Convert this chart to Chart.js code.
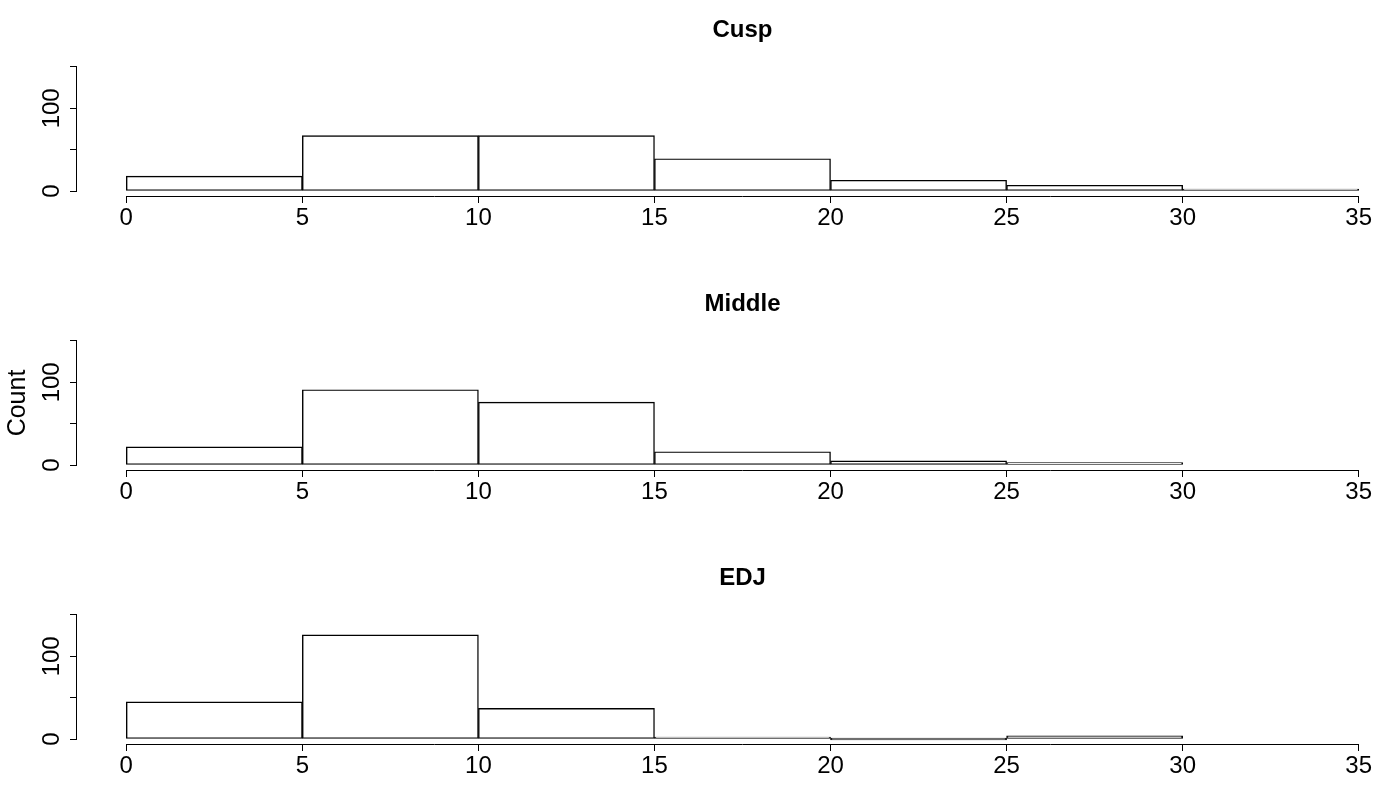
<!DOCTYPE html>
<html>
<head>
<meta charset="utf-8">
<script src="https://cdn.jsdelivr.net/npm/chart.js@4.4.0/dist/chart.umd.min.js"></script>
<style>
html, body { margin: 0; padding: 0; background: #fff; overflow: hidden; width: 1392px; height: 785px; }
.panel { position: absolute; left: 0; width: 1485px; height: 274px; }
</style>
</head>
<body>
<div class="panel" style="top:0px"><canvas id="cusp" width="1485" height="274"></canvas></div>
<div class="panel" style="top:274px"><canvas id="middle" width="1485" height="274"></canvas></div>
<div class="panel" style="top:548px"><canvas id="edj" width="1485" height="274"></canvas></div>
<script>
// histogram bins (left edges), width 5
const binStarts = [0, 5, 10, 15, 20, 25, 30];
const binWidth = 5;

// counts per bin
const cuspCounts = [18, 67, 67, 39, 13, 7, 2];
const middleCounts = [22, 91, 76, 16, 5, 3];
const edjCounts = [45, 126, 37, 1, 0, 4];

// axes
const xTicks = [0, 5, 10, 15, 20, 25, 30, 35];
const yTicks = [0, 50, 100, 150];
const yTickLabels = ['0', '', '100', ''];

Chart.defaults.font.family = "'Liberation Sans', Arial, Helvetica, sans-serif";
Chart.defaults.color = '#000';

// R style axis lines, only from first to last tick
const rAxes = {
    id: 'rAxes',
    afterDraw(chart) {
        let { ctx, chartArea, scales } = chart;
        let x = scales.x, y = scales.y;
        ctx.save();
        ctx.strokeStyle = '#000';
        ctx.lineWidth = 1;
        ctx.beginPath();
        let yb = Math.round(chartArea.bottom) + 0.5;
        ctx.moveTo(x.getPixelForValue(xTicks[0]), yb);
        ctx.lineTo(x.getPixelForValue(xTicks[xTicks.length - 1]), yb);
        let xl = Math.round(chartArea.left) - 0.5;
        ctx.moveTo(xl, y.getPixelForValue(yTicks[0]));
        ctx.lineTo(xl, y.getPixelForValue(yTicks[yTicks.length - 1]));
        ctx.stroke();
        ctx.restore();
    }
};

function makeHist(id, title, counts, yTitle) {
    let points = counts.map((c, i) => ({ x: binStarts[i] + binWidth / 2, y: c }));
    return new Chart(document.getElementById(id), {
        type: 'bar',
        data: {
            datasets: [{
                data: points,
                backgroundColor: '#fff',
                borderColor: '#000',
                borderWidth: 1.4,
                borderSkipped: false,
                barPercentage: 1,
                categoryPercentage: 1,
                minBarLength: 2
            }]
        },
        options: {
            responsive: false,
            animation: false,
            devicePixelRatio: 1,
            layout: { padding: 0 },
            plugins: {
                legend: { display: false },
                tooltip: { enabled: false },
                title: {
                    display: true,
                    text: title,
                    color: '#000',
                    font: { size: 24, weight: 'bold', lineHeight: 1 },
                    padding: { top: 18, bottom: 20 }
                }
            },
            scales: {
                x: {
                    type: 'linear',
                    min: -1.4,
                    max: 36.4,
                    offset: false,
                    afterBuildTicks: s => { s.ticks = xTicks.map(v => ({ value: v })); },
                    afterFit: s => { s.height = 78; },
                    grid: { offset: false, drawOnChartArea: false, drawTicks: true, tickLength: 7, color: '#000', lineWidth: 1 },
                    border: { display: false },
                    ticks: { font: { size: 24 }, color: '#000', padding: 1, maxRotation: 0, autoSkip: false }
                },
                y: {
                    min: -6,
                    max: 156,
                    afterBuildTicks: s => { s.ticks = yTicks.map(v => ({ value: v })); },
                    afterFit: s => { s.width = 77; },
                    grid: { drawOnChartArea: false, drawTicks: true, tickLength: 7, color: '#000', lineWidth: 1 },
                    border: { display: false },
                    ticks: {
                        font: { size: 24 }, color: '#000', padding: -2,
                        minRotation: 90, maxRotation: 90, crossAlign: 'center', autoSkip: false,
                        callback: (v, i) => yTickLabels[i]
                    },
                    title: {
                        display: !!yTitle,
                        text: yTitle || '',
                        color: '#000',
                        font: { size: 25 },
                        padding: { top: 3, bottom: 0 }
                    }
                },
                // empty right margin so the title centres over the plot region
                yr: {
                    type: 'linear',
                    position: 'right',
                    afterFit: s => { s.width = 77; },
                    grid: { display: false },
                    border: { display: false },
                    ticks: { display: false }
                }
            }
        },
        plugins: [rAxes]
    });
}

makeHist('cusp', 'Cusp', cuspCounts);
makeHist('middle', 'Middle', middleCounts, 'Count');
makeHist('edj', 'EDJ', edjCounts);
</script>
</body>
</html>
